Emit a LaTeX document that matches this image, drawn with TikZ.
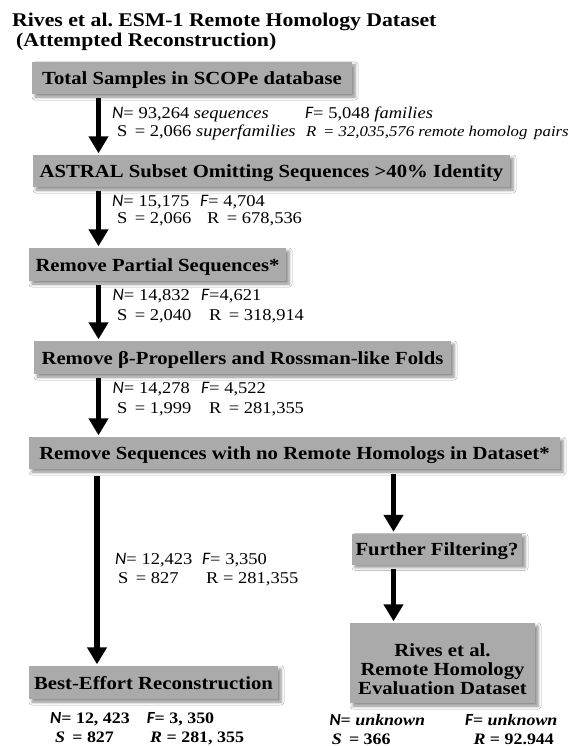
\documentclass[tikz,border=0pt]{standalone}
\usepackage{fontspec}
\newfontfamily\carl{Carlito}
\newfontfamily\pal{Liberation Serif}[FakeStretch=1.12]
\newcommand\vN{{\carl\itshape\fontsize{17.5}{18}\selectfont N}}
\newcommand\vF{{\carl\itshape\fontsize{17.5}{18}\selectfont F}}
\usetikzlibrary{arrows.meta,shadows.blur}
\definecolor{boxgray}{RGB}{170,170,170}
\frenchspacing
\begin{document}
\begin{tikzpicture}[x=1pt,y=-1pt,
  flowbox/.style={fill=boxgray, inner sep=0pt, text height=16pt, text depth=3pt,
     font=\pal\bfseries\fontsize{18.5}{20}\selectfont,
     blur shadow={shadow xshift=3pt,shadow yshift=-3pt,shadow blur radius=3pt,shadow opacity=45}},
  bigarrow/.style={line width=5.6pt, -{Triangle[width=19pt,length=17pt]}, shorten <=4pt, shorten >=1.5pt},
  stat/.style={anchor=base west, inner sep=0pt, font=\pal\fontsize{16.5}{18}\selectfont},
  boldstat/.style={anchor=base west, inner sep=0pt, font=\pal\bfseries\fontsize{16}{18}\selectfont},
  titletext/.style={anchor=base west, inner sep=0pt, font=\pal\bfseries\fontsize{19.4}{21}\selectfont}]
\useasboundingbox (0,0) rectangle (571,746);
\fill[white] (0,0) rectangle (571,746);

% title
\node[titletext] (t1) at (12,26.7) {Rives et al. ESM-1 Remote Homology Dataset};
\node[titletext] (t2) at (16,46.7) {(Attempted Reconstruction)};

% boxes
\node[flowbox, minimum width=320pt, minimum height=32pt] (b1) at (192,78) {Total Samples in SCOPe database};
\node[flowbox, minimum width=477pt, minimum height=32pt] (b2) at (271.5,171) {ASTRAL Subset Omitting Sequences >40\% Identity};
\node[flowbox, minimum width=257pt, minimum height=33pt] (b3) at (157.5,264.5) {Remove Partial Sequences*};
\node[flowbox, minimum width=417pt, minimum height=33pt] (b4) at (242.5,357.5) {Remove β-Propellers and Rossman-like Folds};
\node[flowbox, minimum width=531pt, minimum height=32pt] (b5) at (294.5,453) {Remove Sequences with no Remote Homologs in Dataset*};
\node[flowbox, minimum width=249pt, minimum height=33pt] (be) at (153.5,682.5) {Best-Effort Reconstruction};
\node[flowbox, minimum width=170pt, minimum height=31pt] (ff) at (437,549) {Further Filtering?};
\node[flowbox, minimum width=185pt, minimum height=80pt] (rv) at (442.5,663) {};
\node[align=center, inner sep=0pt, font=\pal\bfseries\fontsize{18.5}{19}\selectfont] (rvt) at (442.5,669)
  {Rives et al.\\Remote Homology\\Evaluation Dataset};

% arrows
\coordinate (L) at (98.5,0);
\coordinate (L2) at (97,0);
\coordinate (R) at (393.5,0);
\draw[bigarrow] (b1.south -| L) -- (b2.north -| L);
\draw[bigarrow] (b2.south -| L) -- (b3.north -| L);
\draw[bigarrow] (b3.south -| L) -- (b4.north -| L);
\draw[bigarrow] (b4.south -| L) -- (b5.north -| L);
\draw[bigarrow, shorten <=7pt] (b5.south -| L2) -- (be.north -| L2);
\draw[bigarrow, shorten <=5pt] (b5.south -| R) -- (ff.north -| R);
\draw[bigarrow, shorten <=4.5pt] (ff.south -| R) -- (rv.north -| R);

% stats 1
\node[stat] (s1n) at (112,119) {\vN= 93,264 {\itshape sequences}};
\node[stat] (s1f) at (305,118.3) {\vF= 5,048 {\itshape families}};
\node[stat] (s1s) at (117,136.7) {S\, = 2,066 {\itshape superfamilies}};
\node[stat, font=\pal\itshape\fontsize{15}{17}\selectfont] (s1r) at (306,136.7) {R\, = 32,035,576 remote homolog\, pairs};

% stats 2
\node[stat] (s2n) at (112,206) {\vN= 15,175};
\node[stat] (s2f) at (200,206) {\vF= 4,704};
\node[stat] (s2s) at (117,223.3) {S\, = 2,066};
\node[stat] (s2r) at (207,223.3) {R\, = 678,536};

% stats 3
\node[stat] (s3n) at (112.5,300.7) {\vN= 14,832};
\node[stat] (s3f) at (201,300.7) {\vF=4,621};
\node[stat] (s3s) at (117,320) {S\, = 2,040};
\node[stat] (s3r) at (209,320) {R\, = 318,914};

% stats 4
\node[stat] (s4n) at (112.5,393.3) {\vN= 14,278};
\node[stat] (s4f) at (201,393.3) {\vF= 4,522};
\node[stat] (s4s) at (117,413.3) {S\, = 1,999};
\node[stat] (s4r) at (209,413.3) {R\, = 281,355};

% stats 5
\node[stat] (s5n) at (115,564) {\vN= 12,423};
\node[stat] (s5f) at (202,564) {\vF= 3,350};
\node[stat] (s5s) at (118,583.3) {S\, = 827};
\node[stat] (s5r) at (206,583.3) {R = 281,355};

% bottom left
\node[boldstat] (bln) at (50,723.3) {{\carl\bfseries\itshape\fontsize{17}{18}\selectfont N}= 12, 423};
\node[boldstat] (blf) at (146.7,723.3) {{\carl\bfseries\itshape\fontsize{17}{18}\selectfont F}= 3, 350};
\node[boldstat] (bls) at (55,742) {{\itshape S}\, = 827};
\node[boldstat] (blr) at (150,742) {{\itshape R} = 281, 355};

% bottom right
\node[boldstat] (brn) at (329.3,725.5) {{\carl\bfseries\itshape\fontsize{17}{18}\selectfont N}= {\itshape unknown}};
\node[boldstat] (brf) at (465,725.5) {{\carl\bfseries\itshape\fontsize{17}{18}\selectfont F}= {\itshape unknown}};
\node[boldstat] (brs) at (331.7,744) {{\itshape S}\, = 366};
\node[boldstat] (brr) at (473.3,744) {{\itshape R} = 92.944};
\end{tikzpicture}
\end{document}
